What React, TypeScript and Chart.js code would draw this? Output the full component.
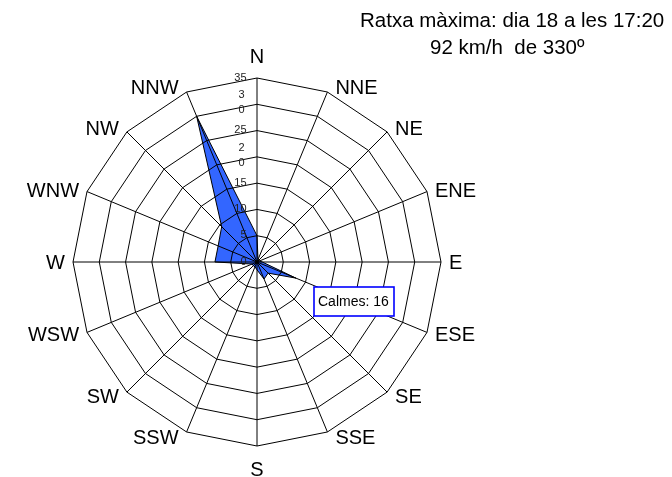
import React, { useEffect, useRef } from 'react';
import { Chart, registerables } from 'chart.js';

Chart.register(...registerables);

const directions = ['N', 'NNE', 'NE', 'ENE', 'E', 'ESE', 'SE', 'SSE', 'S', 'SSW', 'SW', 'WSW', 'W', 'WNW', 'NW', 'NNW'];
const frequencies = [5, 0.5, 0.5, 0.5, 1, 8, 3, 3.5, 1.5, 1, 1, 1, 8, 8, 9.5, 30];
const tickValues = [0, 5, 10, 15, 20, 25, 30, 35];
const tickLabels = [['0'], ['5'], ['10'], ['15'], ['2', '0'], ['25'], ['3', '0'], ['35']];
const titleLines = ['Ratxa màxima: dia 18 a les 17:20', '92 km/h  de 330º'];
const calmsLabel = 'Calmes: 16';

const FONT = '"Liberation Sans", Arial, Helvetica, sans-serif';

const overlayPlugin = {
  id: 'roseOverlay',
  afterDraw(chart: any) {
    const ctx = chart.ctx as CanvasRenderingContext2D;
    const r = chart.scales.r;
    ctx.save();

    // direction labels
    ctx.fillStyle = '#000';
    ctx.font = `20px ${FONT}`;
    ctx.textBaseline = 'alphabetic';
    directions.forEach((d, i) => {
      const p = r.getPointPosition(i, r.drawingArea);
      const ang = (i * 360 / directions.length) * Math.PI / 180;
      const s = Math.sin(ang);
      const c = Math.cos(ang);
      let x = p.x;
      let y = p.y;
      if (Math.abs(s) < 0.01) {
        ctx.textAlign = 'center';
        y += c > 0 ? -22.5 : 22.5;
      } else {
        ctx.textAlign = s > 0 ? 'left' : 'right';
        x += s > 0 ? 8 : -8;
        y -= 5 * c;
      }
      ctx.fillText(d, x, y + 7);
    });

    // tick labels
    ctx.font = `11px ${FONT}`;
    ctx.fillStyle = '#222';
    tickValues.forEach((v, i) => {
      const yc = r.yCenter - r.getDistanceFromCenterForValue(v);
      const lines = tickLabels[i];
      if (lines.length === 1) {
        ctx.textAlign = 'right';
        ctx.fillText(lines[0], r.xCenter - 10.5, yc - 1.5 + 4);
      } else {
        ctx.textAlign = 'center';
        ctx.fillText(lines[0], r.xCenter - 15.5, yc - 10 + 4);
        ctx.fillText(lines[1], r.xCenter - 15.5, yc + 5 + 4);
      }
    });

    // title
    ctx.fillStyle = '#000';
    ctx.font = `20.5px ${FONT}`;
    ctx.textAlign = 'left';
    ctx.fillText(titleLines[0], 360, 27);
    ctx.fillText(titleLines[1], 430, 54);

    // calms box
    ctx.fillStyle = '#fff';
    ctx.fillRect(314, 287, 80, 29);
    ctx.strokeStyle = '#0000ff';
    ctx.lineWidth = 1.6;
    ctx.strokeRect(314, 287, 80, 29);
    ctx.fillStyle = '#000';
    ctx.font = `14px ${FONT}`;
    ctx.textAlign = 'left';
    ctx.fillText(calmsLabel, 318, 306);

    ctx.restore();
  },
};

export default function App() {
  const canvasRef = useRef<HTMLCanvasElement | null>(null);

  useEffect(() => {
    const canvas = canvasRef.current;
    if (!canvas) return;
    const chart = new Chart(canvas, {
      type: 'radar',
      data: {
        labels: directions,
        datasets: [
          {
            data: frequencies,
            backgroundColor: '#3366ff',
            borderColor: '#000000',
            borderWidth: 1,
            pointRadius: 0,
            pointHoverRadius: 0,
            fill: true,
            tension: 0,
          },
        ],
      },
      options: {
        animation: false,
        responsive: false,
        events: [],
        layout: { padding: { left: 73, right: 231, top: 78, bottom: 31 } },
        plugins: {
          legend: { display: false },
          tooltip: { enabled: false },
          title: { display: false },
        },
        scales: {
          r: {
            min: 0,
            max: 35,
            beginAtZero: true,
            ticks: { stepSize: 5, display: false },
            pointLabels: { display: false },
            grid: { color: '#000000', lineWidth: 1, z: 1 },
            angleLines: { color: '#000000', lineWidth: 1 },
          },
        },
      },
      plugins: [overlayPlugin],
    } as any);
    return () => chart.destroy();
  }, []);

  return (
    <div style={{ position: 'absolute', left: 0, top: 0, width: 672, height: 477, background: '#fff' }}>
      <canvas ref={canvasRef} width={672} height={477} style={{ display: 'block', width: 672, height: 477 }} />
    </div>
  );
}
